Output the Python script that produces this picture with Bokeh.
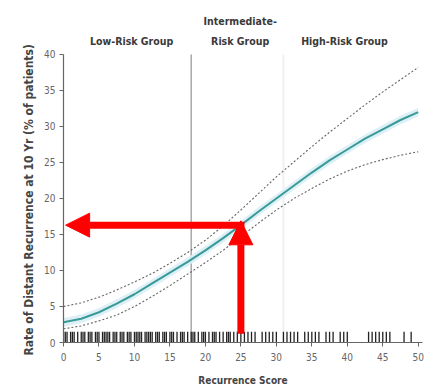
from bokeh.plotting import figure
from bokeh.models import (Arrow, NormalHead, Label, FixedTicker, Title,
                          ColumnDataSource)
from bokeh.embed import file_html
from bokeh.resources import INLINE

# Recurrence score grid and estimated 10-year distant recurrence (%)
score = [0, 2.5, 5, 7.5, 10, 12.5, 15, 17.5, 20, 22.5, 25,
         27.5, 30, 32.5, 35, 37.5, 40, 42.5, 45, 47.5, 50]
rate = [2.8, 3.3, 4.2, 5.4, 6.7, 8.2, 9.7, 11.2, 12.8, 14.5, 16.3,
        18.2, 20.0, 21.8, 23.6, 25.3, 26.8, 28.3, 29.6, 30.9, 32.0]
upper_ci = [5.0, 5.5, 6.3, 7.3, 8.4, 9.6, 11.0, 12.5, 14.2, 16.2, 18.4,
            20.7, 23.0, 25.1, 27.2, 29.2, 31.1, 33.0, 34.8, 36.5, 38.2]
lower_ci = [1.9, 2.3, 3.0, 3.8, 5.0, 6.4, 7.9, 9.5, 11.1, 12.8, 14.7,
            16.6, 18.4, 20.0, 21.4, 22.7, 23.8, 24.7, 25.4, 26.0, 26.5]

# Individual patient recurrence scores (rug)
rug_scores = [0, 0.25, 0.5, 1, 1.25, 1.5, 2, 2.5, 2.75, 3, 3.5, 3.75, 4,
              4.5, 4.75, 5, 5.5, 5.75, 6, 6.25, 6.5, 7, 7.25, 7.5, 8, 8.25,
              8.5, 9, 9.25, 9.5, 10, 10.25, 10.5, 10.75, 11, 11.5, 11.75,
              12, 12.25, 12.5, 13, 13.25, 13.5, 14, 14.25, 14.5, 15, 15.25,
              15.5, 16, 16.5, 16.75, 17, 17.5, 18, 18.25, 18.5, 19, 19.5,
              19.75, 20, 20.5, 21, 21.25, 21.5, 22, 22.5, 23, 23.25, 23.5,
              24, 24.5, 25, 25.5, 26, 26.5, 27, 28, 28.5, 29, 29.5, 30, 31,
              31.5, 32, 32.5, 33, 34, 34.5, 35, 35.5, 36, 37, 37.5, 38, 39,
              39.5, 40, 43, 43.5, 44, 44.5, 45, 45.5, 46, 48, 49]

# Risk-group cut points and group names
cut_points = [18, 31]
group_names = ["Low-Risk Group", "Intermediate-\nRisk Group", "High-Risk Group"]
group_centers = [9.6, 24.9, 39.6]

# Highlighted reading: score 25 -> about 16% risk
marker_score = 25
marker_rate = 16.3

x_ticks = [0, 5, 10, 15, 20, 25, 30, 35, 40, 45, 50]
y_ticks = [0, 5, 10, 15, 20, 25, 30, 35, 40]
y_top = 40

FONT = "Liberation Sans Narrow, DejaVu Sans Condensed, sans-serif"

p = figure(width=429, height=391, x_range=(0, 50.6), y_range=(0, 46.8),
           output_backend="svg", toolbar_location=None,
           min_border_left=63, min_border_right=7,
           min_border_top=5, min_border_bottom=49)
p.outline_line_color = None
p.xgrid.visible = False
p.ygrid.visible = False
p.background_fill_color = "white"
p.border_fill_color = "white"

# group boundaries
p.segment(x0=[cut_points[0]], y0=[0], x1=[cut_points[0]], y1=[y_top],
          line_color="#a8a8a8", line_width=1.5)
p.segment(x0=[cut_points[1]], y0=[0], x1=[cut_points[1]], y1=[y_top],
          line_color="#f0f0f0", line_width=2)

src = ColumnDataSource(dict(score=score, rate=rate,
                            upper=upper_ci, lower=lower_ci,
                            glow_lo=[r - 0.6 for r in rate],
                            glow_hi=[r + 0.6 for r in rate]))

# soft halo around the fitted curve
p.varea(x="score", y1="glow_lo", y2="glow_hi", source=src,
        fill_color="#d9eef5", fill_alpha=0.9)

p.line(x="score", y="upper", source=src, line_color="#666666",
       line_width=1.1, line_dash="2 2")
p.line(x="score", y="lower", source=src, line_color="#666666",
       line_width=1.1, line_dash="2 2")
p.line(x="score", y="rate", source=src, line_color="#3a9a98", line_width=2)

# rug of patient scores
p.segment(x0=rug_scores, y0=[0] * len(rug_scores),
          x1=rug_scores, y1=[1.5] * len(rug_scores),
          line_color="#222222", line_width=1.3)

# axes
for ax, ticks in ((p.xaxis[0], x_ticks), (p.yaxis[0], y_ticks)):
    ax.ticker = FixedTicker(ticks=ticks)
    ax.axis_line_color = "#666666"
    ax.axis_line_width = 1.2
    ax.major_tick_line_color = "#666666"
    ax.major_tick_out = 4
    ax.major_tick_in = 0
    ax.minor_tick_line_color = None
    ax.major_label_text_font = FONT
    ax.major_label_text_font_size = "10px"
    ax.major_label_text_color = "#666666"

p.yaxis.bounds = (0, y_top)
p.yaxis.major_label_standoff = 4
p.xaxis.axis_label = "Recurrence Score"
p.xaxis.axis_label_text_font = FONT
p.xaxis.axis_label_text_font_style = "bold"
p.xaxis.axis_label_text_color = "#444444"
p.xaxis.axis_label_text_font_size = "10px"
p.xaxis.major_label_standoff = 6
p.xaxis.axis_label_standoff = 11

# vertical axis title, starting just below the axis foot
p.add_layout(Title(text="Rate of Distant Recurrence at 10 Yr (% of patients)",
                   align="left", offset=-13, standoff=12,
                   text_font=FONT, text_font_style="bold",
                   text_font_size="12px", text_color="#444444"), "left")

# group labels above the curves
for name, cx in zip(group_names, group_centers):
    p.add_layout(Label(x=cx, y=41.1, x_units="data", y_units="data",
                       text=name, text_align="center",
                       text_baseline="bottom", text_font=FONT,
                       text_font_style="bold", text_font_size="10.5px",
                       text_color="#3a3a3a", text_line_height=1.6))

# red reading arrows
p.add_layout(Arrow(x_start=marker_score, y_start=1.2,
                   x_end=marker_score, y_end=marker_rate + 0.6,
                   line_color="#ff0000", line_width=7,
                   end=NormalHead(size=24, fill_color="#ff0000",
                                  line_color="#ff0000", line_width=1)))
p.add_layout(Arrow(x_start=marker_score + 0.5, y_start=marker_rate,
                   x_end=0.3, y_end=marker_rate,
                   line_color="#ff0000", line_width=7,
                   end=NormalHead(size=24, fill_color="#ff0000",
                                  line_color="#ff0000", line_width=1)))

open("out.html", "w").write(file_html(p, INLINE))
